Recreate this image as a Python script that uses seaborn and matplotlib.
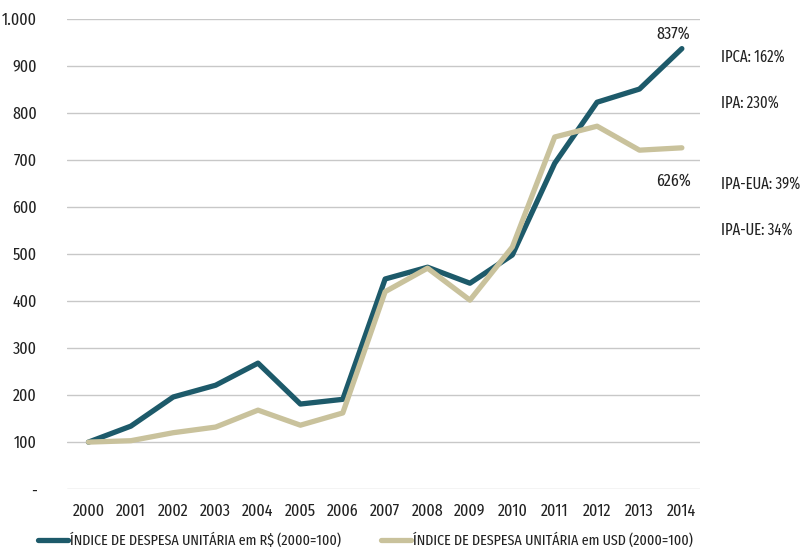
import matplotlib
matplotlib.use("Agg")
import matplotlib.pyplot as plt
import seaborn as sns
import pandas as pd
from matplotlib import font_manager
from matplotlib.lines import Line2D

years = list(range(2000, 2015))
brl_index = [100, 134, 196, 221, 268, 181, 191, 447, 472, 438, 498, 693, 823, 851, 937]
usd_index = [100, 103, 120, 132, 168, 136, 162, 420, 470, 402, 515, 749, 772, 721, 726]
series_names = ["ÍNDICE DE DESPESA UNITÁRIA em R$ (2000=100)",
                "ÍNDICE DE DESPESA UNITÁRIA em USD (2000=100)"]
y_ticks = [0, 100, 200, 300, 400, 500, 600, 700, 800, 900, 1000]
y_tick_labels = ["-", "100", "200", "300", "400", "500", "600", "700", "800", "900", "1.000"]
end_labels = ["837%", "626%"]
side_notes = ["IPCA: 162%", "IPA: 230%", "IPA-EUA: 39%", "IPA-UE: 34%"]
side_note_y = [920, 822, 648, 552]

sns.set_theme(style="white")


def find_font(keys):
    for key in keys:
        for f in font_manager.fontManager.ttflist:
            fn = f.fname.lower().replace("-", "").replace("_", "")
            if key in fn and not any(b in fn for b in ("bold", "oblique", "italic", "serif",
                                                       "mono", "light", "thin", "black",
                                                       "medium", "semibold")):
                return f.fname
    return None


cond = find_font(["extracondensed", "condensed", "narrow"])
if cond:
    fp = font_manager.FontProperties(fname=cond, size=12.5)
    fp_side = font_manager.FontProperties(fname=cond, size=11.5)
    fp_leg = font_manager.FontProperties(fname=cond, size=11)
else:
    fp = font_manager.FontProperties(family="DejaVu Sans", size=10)
    fp_side = font_manager.FontProperties(family="DejaVu Sans", size=9)
    fp_leg = font_manager.FontProperties(family="DejaVu Sans", size=9)
plt.rcParams["font.family"] = ["DejaVu Sans"]

teal = "#1d5a6a"
tan = "#c9c29c"
txt = "#222222"

df = pd.DataFrame({
    "year": years * 2,
    "value": brl_index + usd_index,
    "series": [series_names[0]] * len(years) + [series_names[1]] * len(years),
})

fig = plt.figure(figsize=(8.01, 5.59), dpi=100)
ax = fig.add_axes([0.084, 0.125, 0.79, 0.841])
sns.lineplot(data=df, x="year", y="value", hue="series",
             palette={series_names[0]: teal, series_names[1]: tan},
             linewidth=3.8, ax=ax, legend=False)

ax.set_xlim(1999.5, 2014.43)
ax.set_ylim(0, 1000)
ax.set_yticks(y_ticks)
ax.set_yticklabels(y_tick_labels)
ax.set_xticks(years)
ax.set_xticklabels([str(y) for y in years])
ax.tick_params(axis="both", colors=txt, length=0)
ax.tick_params(axis="y", pad=22)
ax.tick_params(axis="x", pad=10)
for lab in ax.get_xticklabels() + ax.get_yticklabels():
    lab.set_fontproperties(fp)
ax.grid(axis="y", color="#c8c8c8", linewidth=1)
ax.set_axisbelow(True)
for s in ax.spines.values():
    s.set_visible(False)
ax.set_xlabel("")
ax.set_ylabel("")

ax.text(2014 - 0.2, 985, end_labels[0], ha="center", va="top", fontproperties=fp, color=txt)
ax.text(2014 - 0.2, 672, end_labels[1], ha="center", va="top", fontproperties=fp, color=txt)

for t, yv in zip(side_notes, side_note_y):
    ax.text(2014.92, yv, t, ha="left", va="center", fontproperties=fp_side, color=txt,
            clip_on=False)

handles = [Line2D([0], [0], color=teal, lw=3.8), Line2D([0], [0], color=tan, lw=3.8)]
fig.legend(handles, series_names, loc="lower left", bbox_to_anchor=(0.03, -0.005),
           ncol=2, frameon=False, prop=fp_leg, handlelength=2.0, handletextpad=0.1,
           columnspacing=2.6, labelcolor=txt)

fig.savefig("out.png", dpi=100)
